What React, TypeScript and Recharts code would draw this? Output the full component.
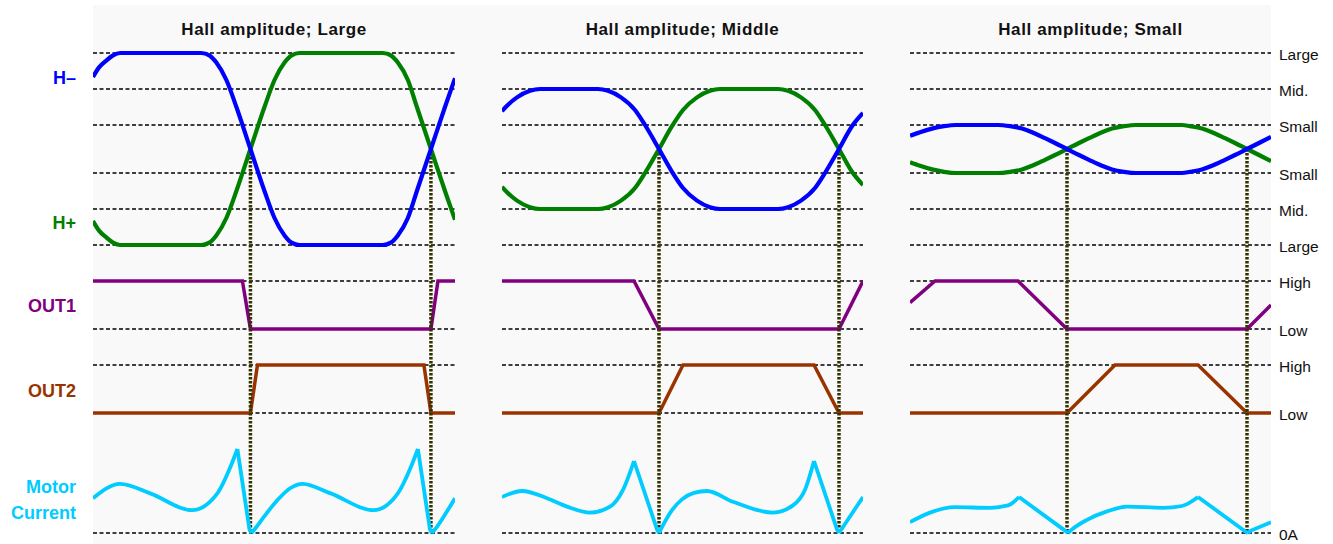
import React from "react";
import { LineChart, Line, XAxis, YAxis } from "recharts";

type Pt = [number, number];
type Seg = { curve: "monotone" | "linear"; pts: Pt[] };

// x runs 0..361 across one panel (electrical angle, crossings at 157 / 337)
const X_MAX = 361;

const titles = ["Hall amplitude; Large", "Hall amplitude; Middle", "Hall amplitude; Small"];

// Hall outputs, in amplitude units (Large = 8, Mid. = 5, Small = 2)
const hMinusLarge: Pt[] = [
  [0, 6.0], [6, 6.8], [13, 7.35], [20, 7.8], [27, 8], [108, 8], [116, 7.8], [123, 7.2], [133, 5.75],
  [143, 3.5], [157, 0], [171, -3.5], [181, -5.75], [191, -7.2], [198, -7.8], [206, -8], [289, -8],
  [297, -7.8], [304, -7.2], [314, -5.75], [323, -3.5], [337, 0], [351, 3.5], [361, 5.9],
];
const hPlusLarge: Pt[] = [
  [0, -6.0], [6, -6.8], [13, -7.35], [20, -7.8], [27, -8], [108, -8], [116, -7.8], [123, -7.2], [133, -5.75],
  [143, -3.5], [157, 0], [171, 3.5], [181, 5.75], [191, 7.2], [198, 7.8], [206, 8], [289, 8],
  [297, 7.8], [304, 7.2], [314, 5.75], [323, 3.5], [337, 0], [351, -3.5], [361, -5.9],
];
const hMinusMiddle: Pt[] = [
  [0, 3.15], [5, 3.6], [15, 4.3], [28, 4.85], [38, 5], [96, 5], [106, 4.85], [119, 4.3], [133, 3.25],
  [143, 2], [157, 0], [170, -1.9], [181, -3.25], [195, -4.3], [208, -4.85], [218, -5], [276, -5],
  [286, -4.85], [299, -4.3], [313, -3.25], [323, -2], [337, 0], [350, 1.9], [361, 3.0],
];
const hPlusMiddle: Pt[] = [
  [0, -3.15], [5, -3.6], [15, -4.3], [28, -4.85], [38, -5], [96, -5], [106, -4.85], [119, -4.3], [133, -3.25],
  [143, -2], [157, 0], [170, 1.9], [181, 3.25], [195, 4.3], [208, 4.85], [218, 5], [276, 5],
  [286, 4.85], [299, 4.3], [313, 3.25], [323, 2], [337, 0], [350, -1.9], [361, -3.0],
];
const hMinusSmall: Pt[] = [
  [0, 1.1], [10, 1.4], [22, 1.7], [34, 1.9], [46, 2], [88, 2], [100, 1.9], [112, 1.7], [122, 1.4],
  [135, 0.9], [145, 0.5], [157, 0], [169, -0.5], [179, -0.9], [192, -1.4], [202, -1.7], [214, -1.9],
  [226, -2], [272, -2], [280, -1.9], [292, -1.7], [302, -1.4], [315, -0.9], [325, -0.5], [337, 0],
  [349, 0.5], [361, 1.0],
];
const hPlusSmall: Pt[] = [
  [0, -1.1], [10, -1.4], [22, -1.7], [34, -1.9], [46, -2], [88, -2], [100, -1.9], [112, -1.7], [122, -1.4],
  [135, -0.9], [145, -0.5], [157, 0], [169, 0.5], [179, 0.9], [192, 1.4], [202, 1.7], [214, 1.9],
  [226, 2], [272, 2], [280, 1.9], [292, 1.7], [302, 1.4], [315, 0.9], [325, 0.5], [337, 0],
  [349, -0.5], [361, -1.0],
];

// logic outputs: 1 = High, 0 = Low
const out1Large: Pt[] = [[0, 1], [149, 1], [157, 0], [337, 0], [344, 1], [361, 1]];
const out2Large: Pt[] = [[0, 0], [157, 0], [164, 1], [330, 1], [337, 0], [361, 0]];
const out1Middle: Pt[] = [[0, 1], [132, 1], [157, 0], [337, 0], [361, 1]];
const out2Middle: Pt[] = [[0, 0], [157, 0], [181, 1], [312, 1], [337, 0], [361, 0]];
const out1Small: Pt[] = [[0, 0.55], [25, 1], [108, 1], [157, 0], [337, 0], [361, 0.5]];
const out2Small: Pt[] = [[0, 0], [157, 0], [205, 1], [288, 1], [337, 0], [361, 0]];

// motor current (0A = 0)
const currentLarge: Seg[] = [
  { curve: "monotone", pts: [[0, 2.9], [27, 4.1], [57, 3.3], [99, 1.9], [124, 3.3], [137, 5.5], [144, 7]] },
  { curve: "linear", pts: [[144, 7], [156, 0.3], [158, 0]] },
  { curve: "monotone", pts: [[158, 0], [162, 0.4], [170, 1.3], [184, 2.75], [197, 3.75], [209, 4.1], [237, 3.3], [280, 1.9], [304, 3.3], [317, 5.5], [324, 7]] },
  { curve: "linear", pts: [[324, 7], [336, 0.3], [338, 0]] },
  { curve: "monotone", pts: [[338, 0], [342, 0.4], [350, 1.4], [361, 2.9]] },
];
const currentMiddle: Seg[] = [
  { curve: "monotone", pts: [[0, 3.0], [20, 3.5], [45, 2.9], [65, 2.2], [88, 1.7], [108, 2.2], [121, 3.6], [132, 6.0]] },
  { curve: "linear", pts: [[132, 6], [155, 0.3], [157, 0]] },
  { curve: "monotone", pts: [[157, 0], [162, 0.8], [170, 1.9], [180, 2.8], [192, 3.35], [205, 3.5], [231, 2.6], [271, 1.7], [291, 2.3], [303, 3.6], [312, 6.0]] },
  { curve: "linear", pts: [[312, 6], [335, 0.3], [337, 0]] },
  { curve: "linear", pts: [[337, 0], [341, 0.5], [361, 3.0]] },
];
const currentSmall: Seg[] = [
  { curve: "monotone", pts: [[0, 0.9], [20, 1.7], [45, 2.15], [80, 2.1], [98, 2.3], [109, 3.0]] },
  { curve: "linear", pts: [[109, 3.0], [155, 0.2], [158, 0]] },
  { curve: "monotone", pts: [[158, 0], [162, 0.3], [177, 1.1], [197, 1.8], [217, 2.2], [253, 2.1], [272, 2.25], [288, 3.0]] },
  { curve: "linear", pts: [[288, 3.0], [335, 0.15], [338, 0]] },
  { curve: "linear", pts: [[338, 0], [341, 0.2], [361, 0.9]] },
];

const switchPoints = [157, 337];

const hallLevels = [8, 5, 2];
const hallLevelNames = ["Large", "Mid.", "Small"];
const logicNames = ["High", "Low"];
const zeroName = "0A";

// lanes on the shared y scale (1 unit = 12px)
const HALL_MID = 32;
const OUT1_LOW = 17;
const OUT2_LOW = 10;
const LOGIC_SWING = 4;

const levelTicks = [
  ...hallLevels.map((l) => HALL_MID + l),
  ...[...hallLevels].reverse().map((l) => HALL_MID - l),
  OUT1_LOW + LOGIC_SWING, OUT1_LOW, OUT2_LOW + LOGIC_SWING, OUT2_LOW, 0,
];
const levelNames = [
  ...hallLevelNames, ...[...hallLevelNames].reverse(), ...logicNames, ...logicNames, zeroName,
];

const panels = [
  { hMinus: hMinusLarge, hPlus: hPlusLarge, out1: out1Large, out2: out2Large, current: currentLarge },
  { hMinus: hMinusMiddle, hPlus: hPlusMiddle, out1: out1Middle, out2: out2Middle, current: currentMiddle },
  { hMinus: hMinusSmall, hPlus: hPlusSmall, out1: out1Small, out2: out2Small, current: currentSmall },
];

const panelLeft = [93, 502, 910];
const panelWidth = [362, 361, 361];
const FONT = "'Liberation Sans', Arial, sans-serif";

const rows = (pts: Pt[], base: number, gain = 1) => pts.map(([x, v]) => ({ x, y: base + v * gain }));

const RightTick = (props: any) => {
  const { x, y, payload } = props;
  const i = levelTicks.indexOf(payload.value);
  return (
    <text x={x} y={y} dy={7} fontSize={15.5} fontFamily={FONT} fill="#111" textAnchor="start">
      {levelNames[i]}
    </text>
  );
};

function Panel({ idx }: { idx: number }) {
  const p = panels[idx];
  const showAxis = idx === 2;
  const common = { dot: false, activeDot: false, isAnimationActive: false, dataKey: "y" } as const;
  return (
    <LineChart
      width={panelWidth[idx] + (showAxis ? 60 : 0)}
      height={546}
      margin={{ top: 0, right: 0, bottom: 12, left: 0 }}
    >
      <XAxis type="number" dataKey="x" domain={[0, X_MAX]} hide allowDataOverflow />
      <YAxis
        type="number"
        domain={[-0.5, 44]}
        orientation="right"
        hide={!showAxis}
        width={60}
        ticks={levelTicks}
        interval={0}
        axisLine={false}
        tickLine={false}
        tick={<RightTick />}
        allowDataOverflow
      />
      {levelTicks.map((t) => (
        <Line
          key={`lv${t}`}
          {...common}
          data={rows([[0, 0], [X_MAX, 0]], t)}
          type="linear"
          stroke="#000"
          strokeWidth={1.6}
          strokeDasharray="4 2.5"
        />
      ))}
      <Line {...common} key="o1" data={rows(p.out1, OUT1_LOW, LOGIC_SWING)} type="linear" stroke="#800080" strokeWidth={3.5} />
      <Line {...common} key="o2" data={rows(p.out2, OUT2_LOW, LOGIC_SWING)} type="linear" stroke="#993300" strokeWidth={3.5} />
      {switchPoints.map((sx) => (
        <Line
          key={`sw${sx}`}
          {...common}
          data={[{ x: sx, y: HALL_MID }, { x: sx, y: 0 }]}
          type="linear"
          stroke="#333300"
          strokeWidth={3.5}
          strokeDasharray="2.5 1.5"
        />
      ))}
      <Line {...common} key="hp" data={rows(p.hPlus, HALL_MID)} type="monotone" stroke="#008000" strokeWidth={4.2} />
      <Line {...common} key="hm" data={rows(p.hMinus, HALL_MID)} type="monotone" stroke="#0000ff" strokeWidth={4.2} />
      {p.current.map((s, i) => (
        <Line
          key={`c${i}`}
          {...common}
          data={rows(s.pts, 0)}
          type={s.curve}
          stroke="#00ccff"
          strokeWidth={3.8}
        />
      ))}
    </LineChart>
  );
}

const sideLabels = [
  { text: "H\u2013", color: "#0000ff", top: 68 },
  { text: "H+", color: "#008000", top: 213 },
  { text: "OUT1", color: "#800080", top: 296 },
  { text: "OUT2", color: "#993300", top: 381 },
  { text: "Motor", color: "#00ccff", top: 477 },
  { text: "Current", color: "#00ccff", top: 503 },
];

export default function App() {
  return (
    <div style={{ position: "absolute", left: 0, top: 0, width: 1333, height: 544, background: "#fff", overflow: "hidden", fontFamily: FONT }}>
      <div style={{ position: "absolute", left: 93, top: 5, width: 1178, height: 539, background: "#f9f9f9" }} />
      {titles.map((t, i) => (
        <div
          key={t}
          style={{
            position: "absolute",
            left: panelLeft[i],
            width: panelWidth[i],
            top: 20,
            lineHeight: "20px",
            fontSize: 17,
            fontWeight: 700,
            letterSpacing: 0.6,
            textAlign: "center",
            color: "#111",
          }}
        >
          {t}
        </div>
      ))}
      {sideLabels.map((l) => (
        <div
          key={l.text}
          style={{
            position: "absolute",
            right: 1333 - 76,
            top: l.top,
            lineHeight: "20px",
            fontSize: 18,
            fontWeight: 700,
            color: l.color,
            whiteSpace: "nowrap",
          }}
        >
          {l.text}
        </div>
      ))}
      {panels.map((_, i) => (
        <div key={i} style={{ position: "absolute", left: panelLeft[i], top: 5 }}>
          <Panel idx={i} />
        </div>
      ))}
    </div>
  );
}
